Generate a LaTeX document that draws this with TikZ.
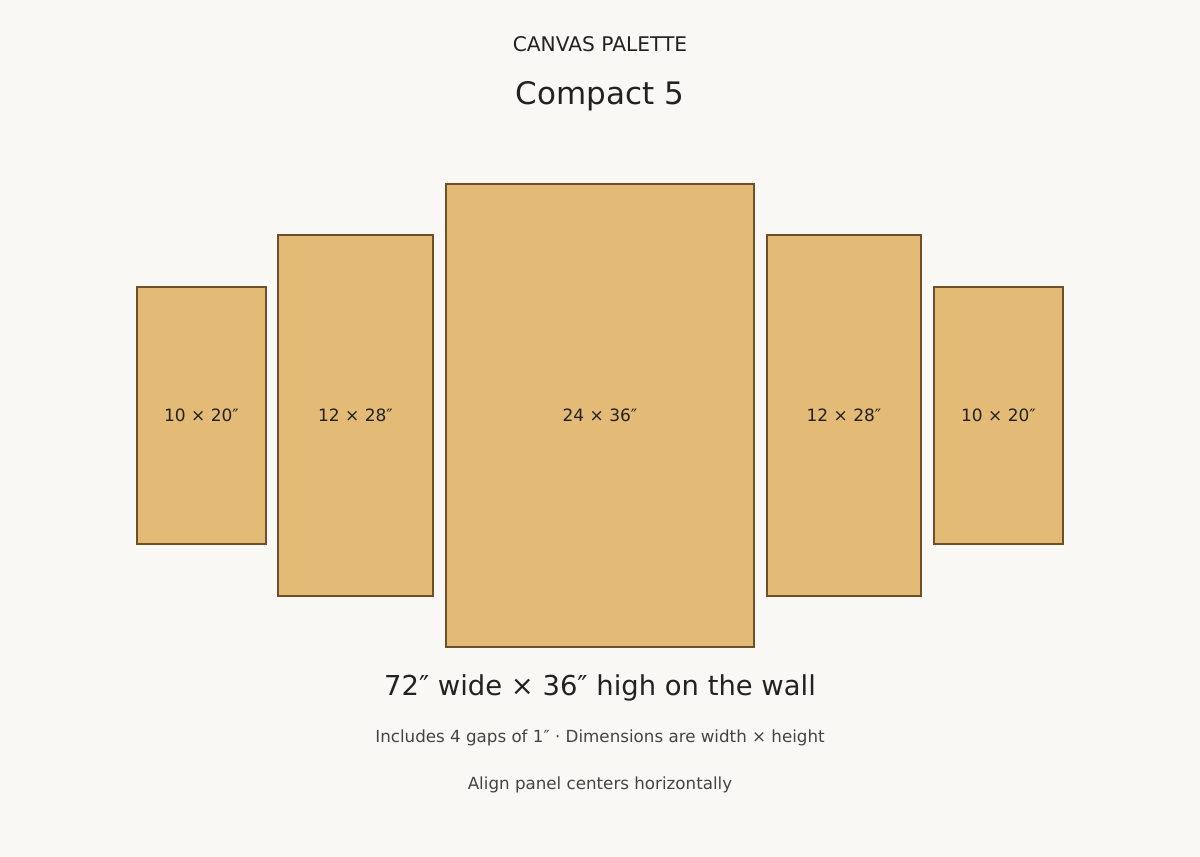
\documentclass[tikz,border=0pt]{standalone}
\usepackage{fontspec}
\setmainfont{DejaVu Sans}
\definecolor{bg}{HTML}{F9F8F5}
\definecolor{panelfill}{HTML}{E4BB76}
\definecolor{paneledge}{HTML}{6E4F28}
\definecolor{ink}{HTML}{222222}
\definecolor{subink}{HTML}{444444}
\begin{document}
\begin{tikzpicture}[x=1pt,y=-1pt,
  panel/.style={draw=paneledge, line width=1.2pt, fill=panelfill},
  plabel/.style={font=\fontsize{17}{20}\selectfont, text=ink, anchor=base},
  ttl/.style={text=ink, anchor=base, inner sep=0pt}]
\useasboundingbox (0,0) rectangle (1200,857);
\fill[bg] (0,0) rectangle (1200,857);
\node[ttl, font=\fontsize{20.2}{24}\selectfont] (t1) at (600,51) {CANVAS PALETTE};
\node[ttl, font=\fontsize{31}{36}\selectfont] (t2) at (600,104) {Compact 5};
\draw[panel] (137,287) rectangle (266,544);
\draw[panel] (278,235) rectangle (433,596);
\draw[panel] (446,184) rectangle (754,647);
\draw[panel] (767,235) rectangle (921,596);
\draw[panel] (934,287) rectangle (1063,544);
\node[plabel] (l1) at (201.5,421) {10 × 20″};
\node[plabel] (l2) at (355.5,421) {12 × 28″};
\node[plabel] (l3) at (600,421) {24 × 36″};
\node[plabel] (l4) at (844,421) {12 × 28″};
\node[plabel] (l5) at (998.5,421) {10 × 20″};
\node[ttl, font=\fontsize{27.4}{32}\selectfont] (s1) at (600,695) {72″ wide × 36″ high on the wall};
\node[ttl, font=\fontsize{16.7}{20}\selectfont, text=subink] (s2) at (600,742) {Includes 4 gaps of 1″ · Dimensions are width × height};
\node[ttl, font=\fontsize{16.7}{20}\selectfont, text=subink] (s3) at (600,789) {Align panel centers horizontally};
\end{tikzpicture}
\end{document}
